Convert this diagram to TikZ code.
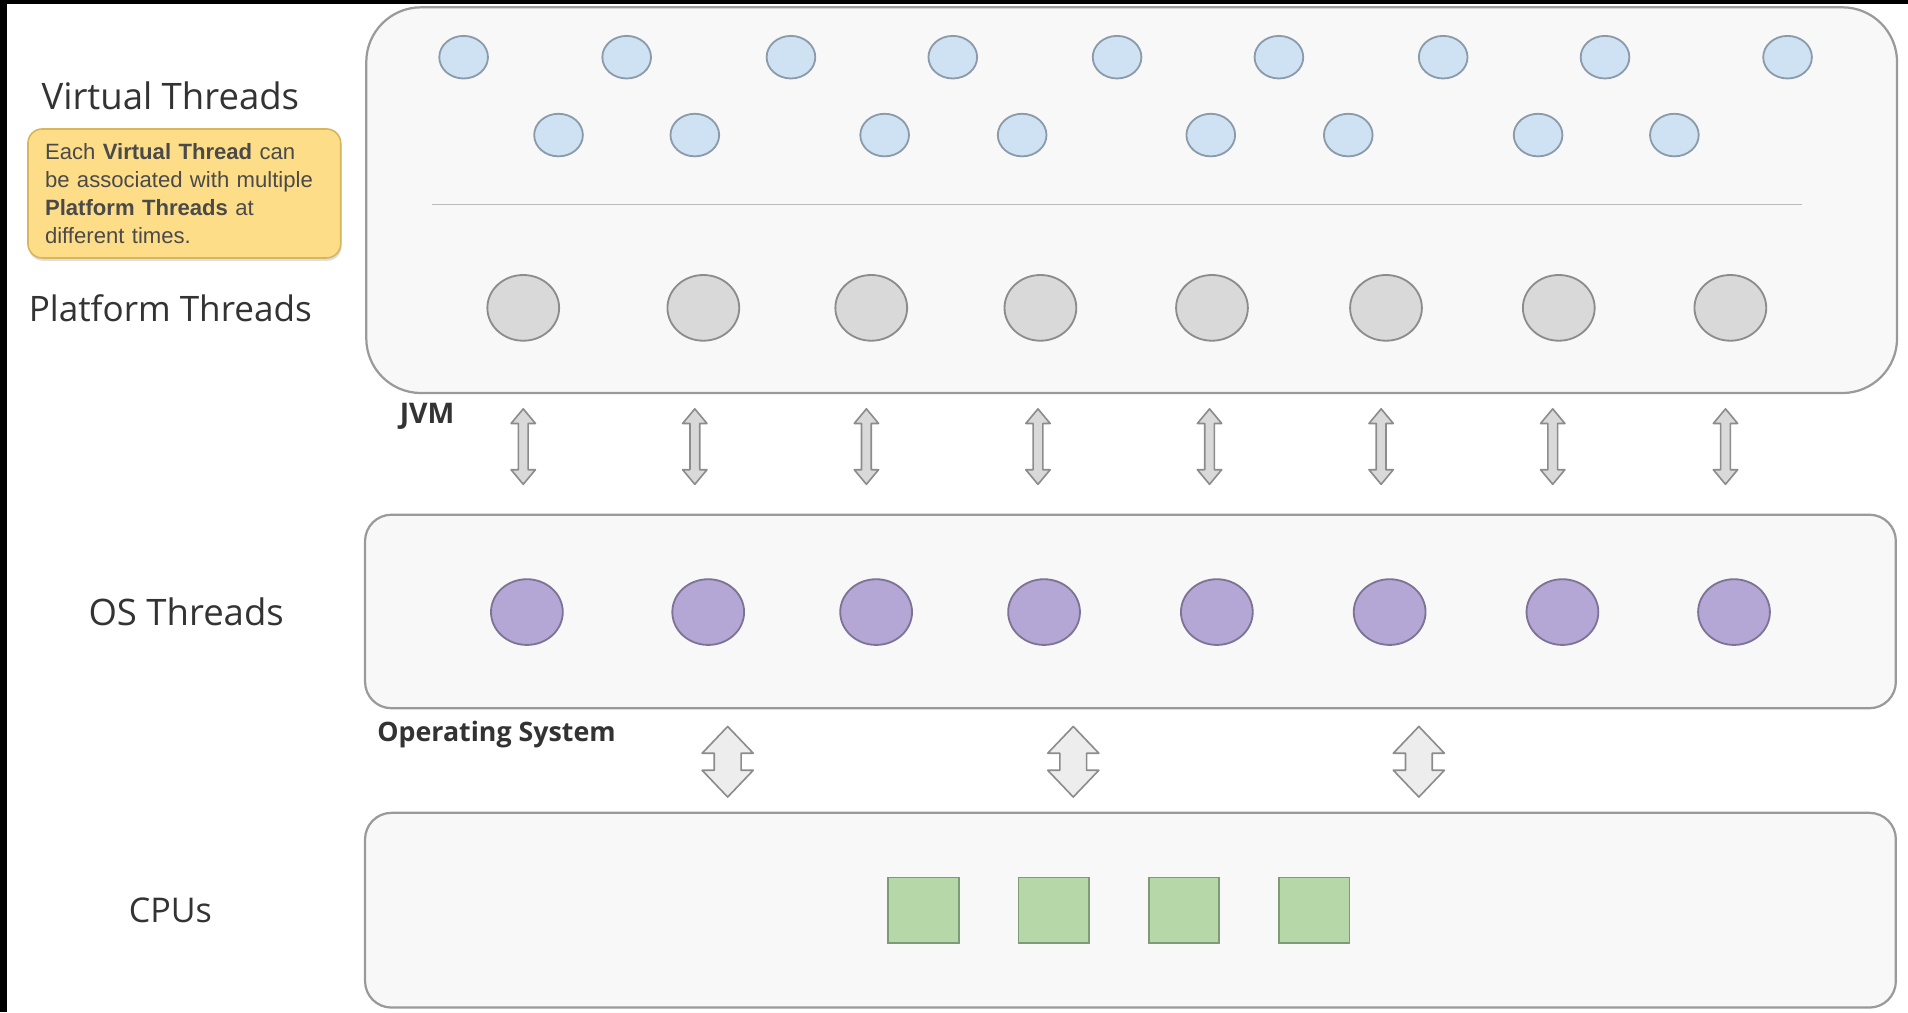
\documentclass[tikz,border=0pt]{standalone}
\usepackage{fontspec}
\setmainfont{Open Sans}
\newfontfamily\notefont{Liberation Sans}
\usetikzlibrary{shapes.geometric,shadows}
\definecolor{boxfill}{HTML}{F8F8F8}
\definecolor{boxline}{HTML}{9A9A9A}
\definecolor{vfill}{HTML}{CFE2F3}
\definecolor{vline}{HTML}{8C9BAA}
\definecolor{pfill}{HTML}{D9D9D9}
\definecolor{pline}{HTML}{8C8C8C}
\definecolor{ofill}{HTML}{B4A7D6}
\definecolor{oline}{HTML}{7D7394}
\definecolor{cfill}{HTML}{B6D7A8}
\definecolor{cline}{HTML}{7F9A76}
\definecolor{notefill}{HTML}{FDDD88}
\definecolor{noteline}{HTML}{D7B660}
\definecolor{txt}{HTML}{333333}
\definecolor{notetxt}{HTML}{4A4A4A}
\definecolor{sepline}{HTML}{BBBBBB}
\tikzset{
  layerbox/.style={draw=boxline, fill=boxfill, line width=1.1pt, inner sep=0pt},
  vthread/.style={ellipse, draw=vline, fill=vfill, line width=0.9pt, inner sep=0pt, minimum width=24pt, minimum height=21pt},
  pthread/.style={ellipse, draw=pline, fill=pfill, line width=0.9pt, inner sep=0pt, minimum width=35.4pt, minimum height=32.4pt},
  othread/.style={ellipse, draw=oline, fill=ofill, line width=0.9pt, inner sep=0pt, minimum width=35.4pt, minimum height=32.4pt},
  cpubox/.style={draw=cline, fill=cfill, line width=0.8pt, inner sep=0pt, minimum width=34.8pt, minimum height=32.4pt},
  notebox/.style={draw=noteline, fill=notefill, line width=0.8pt, rounded corners=7pt,
     drop shadow={opacity=0.25, shadow xshift=0.4pt, shadow yshift=-1.4pt},
     minimum width=154.2pt, minimum height=63.6pt, inner sep=0pt,
     text width=137.4pt, align=left, text=notetxt,
     font=\notefont\fontsize{10.9pt}{13.8pt}\selectfont},
  lbl/.style={text=txt, font=\fontsize{18pt}{20pt}\selectfont, inner sep=0pt},
  smalllbl/.style={text=txt, font=\bfseries\fontsize{13.2pt}{15pt}\selectfont, inner sep=0pt},
  narrowarrowstyle/.style={draw=pline, fill=pfill, line width=0.8pt, line join=round},
  widearrowstyle/.style={draw=pline, fill=black!7, line width=0.8pt, line join=round},
  narrowarrow/.pic={\draw[narrowarrowstyle] (0,-31) -- (10,-19) -- (4,-19) -- (4,19) -- (10,19) -- (0,31) -- (-10,19) -- (-4,19) -- (-4,-19) -- (-10,-19) -- cycle;},
  widearrow/.pic={\draw[widearrowstyle] (0,-29) -- (21,-7) -- (11,-7) -- (11,7) -- (21,7) -- (0,29) -- (-21,7) -- (-11,7) -- (-11,-7) -- (-21,-7) -- cycle;}
}
\begin{document}
\begin{tikzpicture}[x=0.6pt,y=-0.6pt]
\useasboundingbox (0,0) rectangle (1568,832);
\fill[white] (0,0) rectangle (1568,832);
\fill[black] (0,0) rectangle (6,832);
\fill[black] (0,0) rectangle (1568,3);

% layer boxes
\node[layerbox, rounded corners=27pt, minimum width=754.8pt, minimum height=190.2pt] (jvmbox) at (930,164.5) {};
\node[layerbox, rounded corners=13pt, minimum width=754.8pt, minimum height=95.4pt] (osbox) at (929,502.5) {};
\node[layerbox, rounded corners=13pt, minimum width=754.8pt, minimum height=96pt] (cpulayer) at (929,748) {};

% separator
\coordinate (sepL) at (355,168);
\coordinate (sepR) at (1481,168);
\draw[sepline, line width=0.8pt] (sepL) -- (sepR);

% virtual threads
\foreach \x [count=\i] in {381,515,650,783,918,1051,1186,1319,1469}
  \node[vthread] (va\i) at (\x,47) {};
\foreach \x [count=\i] in {459,571,727,840,995,1108,1264,1376}
  \node[vthread] (vb\i) at (\x,111) {};

% platform threads
\foreach \x [count=\i] in {430,578,716,855,996,1139,1281,1422}
  \node[pthread] (p\i) at (\x,253) {};

% os threads
\foreach \x [count=\i] in {433,582,720,858,1000,1142,1284,1425}
  \node[othread] (o\i) at (\x,503) {};

% cpus
\foreach \x [count=\i] in {759,866,973,1080}
  \node[cpubox] (c\i) at (\x,748) {};

% narrow arrows JVM <-> OS
\foreach \x in {430,571,712,853,994,1135,1276,1418}
  \pic at (\x,367) {narrowarrow};

% wide arrows OS <-> CPU
\foreach \x in {598,882,1166}
  \pic at (\x,626) {widearrow};

% labels
\node[lbl] (lvt) at (140,79) {Virtual Threads};
\node[lbl, font=\fontsize{17.3pt}{20pt}\selectfont] (lpt) at (140,253) {Platform Threads};
\node[lbl] (lot) at (153,503) {OS Threads};
\node[lbl, font=\fontsize{16.8pt}{20pt}\selectfont] (lcpu) at (140,748) {CPUs};
\node[smalllbl, font=\bfseries\fontsize{14pt}{16pt}\selectfont] (ljvm) at (351,342) {JVM};
\node[smalllbl] (los) at (408,604) {Operating System};

% note
\node[notebox] (note) at (151.5,159) {Each \textbf{Virtual Thread} can\\be associated with multiple\\\textbf{Platform Threads} at\\different times.};
\end{tikzpicture}
\end{document}
